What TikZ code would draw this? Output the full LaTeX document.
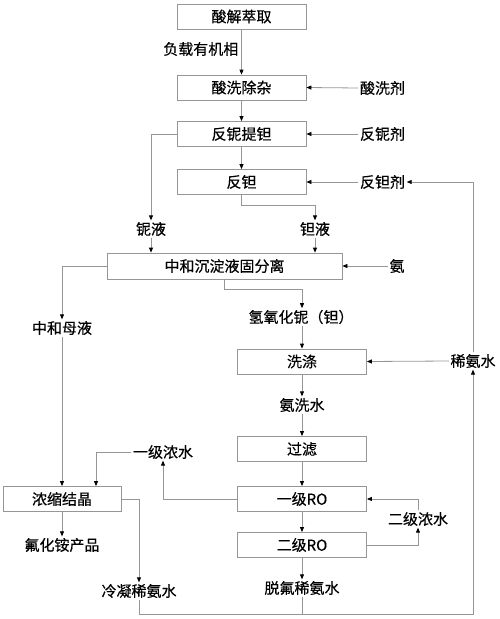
\documentclass[tikz,border=0pt]{standalone}
\usepackage{fontspec}
\setmainfont{Noto Sans CJK SC}[FakeBold=0.4]
\usetikzlibrary{arrows.meta}
\definecolor{lc}{RGB}{150,150,150}
\tikzset{
  x=1pt,y=-1pt,
  box/.style={draw=lc,line width=0.8pt,minimum width=129pt,minimum height=25pt,inner sep=0pt,font=\fontsize{15}{18}\selectfont},
  lbl/.style={inner sep=1.5pt,font=\fontsize{15}{18}\selectfont},
  conn/.style={draw=lc,line width=0.8pt},
  arr/.style={conn,-{Triangle[length=5pt,width=4pt,color=black]}},
}
\begin{document}
\begin{tikzpicture}
\useasboundingbox (0,0) rectangle (500,619);
% boxes
\node[box] (b1) at (241.5,16.5) {酸解萃取};
\node[box] (b2) at (241.5,87.5) {酸洗除杂};
\node[box] (b3) at (241.5,134) {反铌提钽};
\node[box] (b4) at (241.5,182) {反钽};
\node[box,minimum width=235pt,minimum height=26pt] (b5) at (224.5,266) {中和沉淀液固分离};
\node[box] (b6) at (302,361.5) {洗涤};
\node[box] (b7) at (302,449) {过滤};
\node[box] (b8) at (302,499) {一级RO};
\node[box] (b9) at (302,545) {二级RO};
\node[box,minimum width=118pt] (b10) at (62,499) {浓缩结晶};
% labels
\node[lbl,anchor=east] (lfz) at (240,49) {负载有机相};
\node[lbl] (lsx) at (382.5,88) {酸洗剂};
\node[lbl] (lfn) at (382.5,134) {反铌剂};
\node[lbl] (lft) at (382.5,182) {反钽剂};
\node[lbl] (lny) at (151,229) {铌液};
\node[lbl] (lty) at (315,229) {钽液};
\node[lbl] (lan) at (397,266) {氨};
\node[lbl] (lmy) at (62,328) {中和母液};
\node[lbl] (lqy) at (301,317) {氢氧化铌（钽）};
\node[lbl] (lxa) at (473,361) {稀氨水};
\node[lbl] (laxs) at (302,405) {氨洗水};
\node[lbl] (lyj) at (163,452) {一级浓水};
\node[lbl] (lej) at (418,519) {二级浓水};
\node[lbl] (lfh) at (62,545) {氟化铵产品};
\node[lbl] (llx) at (139,591) {冷凝稀氨水};
\node[lbl] (ltf) at (302,588) {脱氟稀氨水};
\coordinate (bot) at (473,614);
\coordinate (k1) at (96,452);
% connectors
\draw[arr] (b1.south) -- (b2.north);
\draw[arr] (lsx.west) -- (b2.east);
\draw[arr] (b2.south) -- (b3.north);
\draw[arr] (lfn.west) -- (b3.east);
\draw[arr] (b3.south) -- (b4.north);
\draw[arr] (lft.west) -- (b4.east);
\draw[arr] (b3.west) -| (lny.north);
\draw[arr] (lny.south) -- (lny.south |- b5.north);
\draw[arr] (b4.south) -- ++(0,10) -| (lty.north);
\draw[arr] (lty.south) -- (lty.south |- b5.north);
\draw[arr] (lan.west) -- (b5.east);
\draw[arr] (b5.west) -| (lmy.north);
\draw[arr] (lmy.south) -- (b10.north);
\draw[arr] (b5.south) -- ++(0,10) -| (lqy.north -| b6.north);
\draw[arr] (lqy.south -| b6.north) -- (b6.north);
\draw[arr] (lxa.west) -- (b6.east);
\draw[arr] (b6.south) -- (laxs.north);
\draw[arr] (laxs.south) -- (b7.north);
\draw[arr] (b7.south) -- (b8.north);
\draw[arr] (b8.south) -- (b9.north);
\draw[arr] (b9.south) -- (ltf.north);
\draw[arr] (b8.west) -| (lyj.south);
\draw[arr] (lyj.west) -- (k1) -- (k1 |- b10.north);
\draw[arr] (b10.east) -| (llx.north);
\draw[arr] (b10.south) -- (lfh.north);
\draw[arr] (b9.east) -| (lej.south);
\draw[arr] (lej.north) |- (b8.east);
\draw[arr] (llx.south) |- (bot) -- (lxa.south);
\draw[conn] (ltf.south) -- (ltf.south |- bot);
\draw[arr] (lxa.north) |- (lft.east);
\end{tikzpicture}
\end{document}
